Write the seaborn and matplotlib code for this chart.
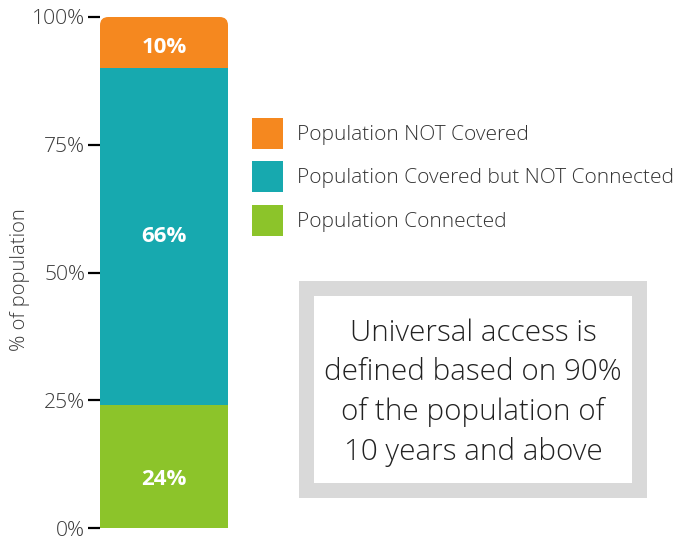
import matplotlib
matplotlib.use("Agg")
import matplotlib.pyplot as plt
import seaborn as sns
import numpy as np
from matplotlib.patches import FancyBboxPatch, Rectangle

# data (bottom -> top of the stack)
segments = ["Population Connected", "Population Covered but NOT Connected", "Population NOT Covered"]
shares = [24, 66, 10]
colors = ["#8CC42A", "#17A9AF", "#F5881F"]
yticks = [0, 25, 50, 75, 100]
note = "Universal access is\ndefined based on 90%\nof the population of\n10 years and above"

sns.set_theme(style="white")
plt.rcParams['font.family'] = ['Open Sans', 'DejaVu Sans']
plt.rcParams['font.weight'] = 'light'

W, H = 686, 541
fig = plt.figure(figsize=(W / 100, H / 100), dpi=100)
ax = fig.add_axes([100 / W, 1 - 528 / H, 128 / W, 511 / H])

# stacked bar, one seaborn call per segment
bottoms = np.cumsum([0] + shares[:-1])
label_frac = [0.395, 0.502, 0.41]  # where inside each segment the % label sits
for seg, val, bot, col, fr in zip(segments, shares, bottoms, colors, label_frac):
    sns.barplot(x=["all"], y=[val], bottom=bot, color=col, saturation=1,
                width=1.0, ax=ax, label=seg, linewidth=0)
    ax.text(0, bot + val * fr, f"{val}%", ha="center", va="center",
            color="white", fontsize=16, fontweight="bold")

handles, labels = ax.get_legend_handles_labels()
if ax.get_legend() is not None:
    ax.get_legend().remove()

# rounded top corners on the top segment
clip = FancyBboxPatch((0, -0.5), 1, 1.5, boxstyle="round,pad=0,rounding_size=0.065",
                      mutation_aspect=128 / 511, transform=ax.transAxes)
ax.patches[-1].set_clip_path(clip)

ax.set_xlim(-0.5, 0.5)
ax.set_ylim(0, 100)
ax.set_yticks(yticks)
ax.set_yticklabels([f"{t}%" for t in yticks])
ax.set_xticks([])
ax.set_xlabel("")
ax.set_ylabel("")
ax.tick_params(axis="y", left=True, length=8.6, width=1.6, color="black",
               labelsize=15.2, labelcolor="#3a3a3a", pad=2)
sns.despine(ax=ax, left=True, bottom=True)
ax.set_facecolor("none")

fig.text(20 / W, 1 - 280 / H, "% of population", rotation=90, ha="center", va="center",
         fontsize=14.6, color="#3a3a3a")

# legend, top segment first
fig.legend(handles[::-1], labels[::-1], loc="upper left",
           bbox_to_anchor=(252 / W, 1 - 118 / H), frameon=False, borderpad=0,
           borderaxespad=0, handlelength=1.5, handleheight=1.9, handletextpad=0.65,
           labelspacing=0.6, fontsize=15, labelcolor="#333333")

# note box
fig.patches.append(Rectangle((305.5 / W, 1 - 489.5 / H), 333 / W, 202 / H,
                             transform=fig.transFigure, facecolor="white",
                             edgecolor="#d9d9d9", linewidth=10.8))
fig.text(473 / W, 1 - 393 / H, note, ha="center", va="center", fontsize=21.3,
         linespacing=1.43, color="#222222", fontweight="light")

fig.savefig("out.png", dpi=100)
